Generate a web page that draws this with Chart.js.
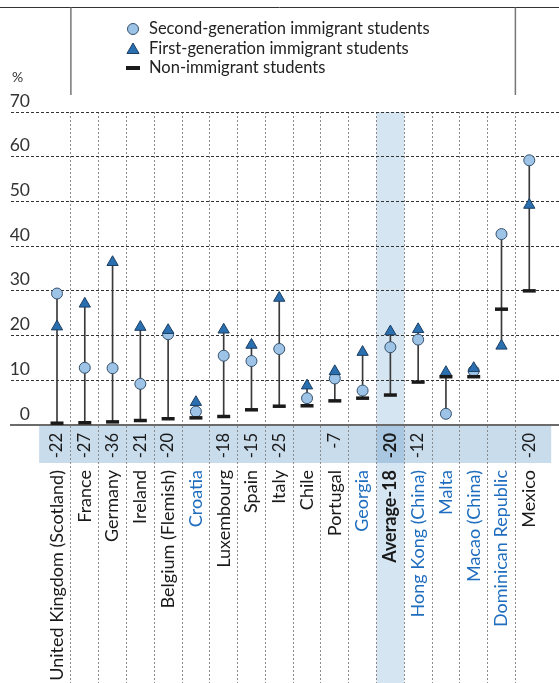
<!DOCTYPE html>
<html>
<head>
<meta charset="utf-8">
<script src="https://cdn.jsdelivr.net/npm/chart.js@4.4.0/dist/chart.umd.min.js"></script>
<style>
  html, body { margin: 0; padding: 0; background: #fff; }
</style>
</head>
<body>
<canvas id="chart" width="559" height="683"></canvas>
<script>
// Données
const countries = [
    'United Kingdom (Scotland)', 'France', 'Germany', 'Ireland', 'Belgium (Flemish)',
    'Croatia', 'Luxembourg', 'Spain', 'Italy', 'Chile', 'Portugal', 'Georgia',
    'Average-18', 'Hong Kong (China)', 'Malta', 'Macao (China)', 'Dominican Republic', 'Mexico'
];
const diffLabels = ['-22', '-27', '-36', '-21', '-20', '', '-18', '-15', '-25', '', '-7', '', '-20', '-12', '', '', '', '-20'];
const partners = ['Croatia', 'Georgia', 'Hong Kong (China)', 'Malta', 'Macao (China)', 'Dominican Republic'];
const averageLabel = 'Average-18';

const secondGen    = [29.4, 12.8, 12.7, 9.2, 20.3, 3.0, 15.5, 14.3, 17.0, 6.0, 10.4, 7.7, 17.4, 19.1, 2.5, 12.1, 42.7, 59.2];
const firstGen     = [22.0, 27.1, 36.4, 21.9, 21.2, 5.1, 21.3, 17.9, 28.4, 8.8, 12.0, 16.3, 20.9, 21.4, 11.8, 12.7, 17.7, 49.2];
const nonImmigrant = [0.4, 0.5, 0.7, 1.0, 1.4, 1.6, 1.9, 3.4, 4.2, 4.3, 5.4, 6.0, 6.7, 9.6, 10.8, 10.8, 25.9, 30.0];

const yTicks = [0, 10, 20, 30, 40, 50, 60, 70];
const legendItems = [
    'Second-generation immigrant students',
    'First-generation immigrant students',
    'Non-immigrant students'
];

const FONT = 'Lato, "Open Sans", sans-serif';
const CIRCLE_FILL = '#9dc3e6';
const TRIANGLE_FILL = '#2a6fb0';
const BLUE_TEXT = '#1f6dbf';

const ranges = countries.map((c, i) => {
    const v = [secondGen[i], firstGen[i], nonImmigrant[i]];
    return { x: i, y: [Math.min(...v), Math.max(...v)] };
});
const toPoints = arr => arr.map((v, i) => ({ x: i, y: v }));

const decorPlugin = {
    id: 'decor',
    beforeDraw(chart) {
        const { ctx, chartArea, scales: { x } } = chart;
        const iAvg = countries.indexOf(averageLabel);
        const l = x.getPixelForValue(iAvg - 0.5);
        const r = x.getPixelForValue(iAvg + 0.5);
        const bandTop = chartArea.bottom + 1;
        const bandH = 37;
        const bl = x.getPixelForValue(-0.5) - 4;
        const br = x.getPixelForValue(countries.length - 0.5) + 8;

        ctx.save();
        // colonne de la moyenne
        ctx.fillStyle = '#d6e5f2';
        ctx.fillRect(l, chartArea.top, r - l, chart.height - chartArea.top);
        // bande des différences
        ctx.fillStyle = '#c9dcec';
        ctx.fillRect(bl, bandTop, br - bl, bandH);
        ctx.fillStyle = '#a9c7e1';
        ctx.fillRect(l, bandTop, r - l, bandH);
        ctx.restore();
    },
    afterDraw(chart) {
        const { ctx, scales: { x, y } } = chart;
        ctx.save();

        // cadre de la légende
        ctx.strokeStyle = '#333';
        ctx.lineWidth = 1;
        ctx.beginPath();
        ctx.moveTo(0, 7.5);
        ctx.lineTo(chart.width, 7.5);
        ctx.stroke();
        ctx.strokeStyle = '#777';
        ctx.lineWidth = 1.5;
        [0.5, countries.length - 1.5].forEach(v => {
            const px = x.getPixelForValue(v);
            ctx.beginPath();
            ctx.moveTo(px, 7.5);
            ctx.lineTo(px, 95);
            ctx.stroke();
        });

        // légende
        const lx = 133;
        const rows = [29, 48.5, 68];
        ctx.font = '16.5px ' + FONT;
        ctx.textBaseline = 'middle';
        ctx.textAlign = 'left';
        legendItems.forEach((t, k) => {
            const ly = rows[k];
            if (k === 0) {
                ctx.fillStyle = CIRCLE_FILL; ctx.strokeStyle = '#35506b'; ctx.lineWidth = 1;
                Chart.helpers.drawPoint(ctx, { pointStyle: 'circle', radius: 5.5, borderWidth: 1 }, lx, ly);
            } else if (k === 1) {
                ctx.fillStyle = TRIANGLE_FILL; ctx.strokeStyle = '#1c3f63'; ctx.lineWidth = 1;
                Chart.helpers.drawPoint(ctx, { pointStyle: 'triangle', radius: 7, borderWidth: 1 }, lx, ly + 1.5);
            } else {
                ctx.strokeStyle = '#1a1a1a'; ctx.lineWidth = 4;
                Chart.helpers.drawPoint(ctx, { pointStyle: 'line', radius: 7, borderWidth: 4 }, lx, ly);
            }
            ctx.fillStyle = '#222';
            ctx.fillText(t, 149, ly);
        });

        // unité et graduations de l'axe Y
        ctx.fillStyle = '#333';
        ctx.font = '14px ' + FONT;
        ctx.fillText('%', 12, 77);
        ctx.font = '17.5px ' + FONT;
        ctx.textAlign = 'right';
        yTicks.forEach(v => {
            ctx.fillText(String(v), 30, y.getPixelForValue(v) - 11);
        });

        // étiquettes pivotées
        countries.forEach((name, i) => {
            const px = x.getPixelForValue(i);
            const isAvg = name === averageLabel;
            ctx.save();
            ctx.translate(px, 433);
            ctx.rotate(-Math.PI / 2);
            ctx.textAlign = 'right';
            ctx.textBaseline = 'middle';
            ctx.fillStyle = '#1a1a1a';
            ctx.font = (isAvg ? 'bold ' : '') + '16.5px ' + FONT;
            if (diffLabels[i]) ctx.fillText(diffLabels[i], 0, 0);
            ctx.restore();

            ctx.save();
            ctx.translate(px, 470);
            ctx.rotate(-Math.PI / 2);
            ctx.textAlign = 'right';
            ctx.textBaseline = 'middle';
            ctx.fillStyle = partners.includes(name) ? BLUE_TEXT : '#1a1a1a';
            ctx.font = (isAvg ? 'bold ' : '') + '18px ' + FONT;
            ctx.fillText(name, 0, 0);
            ctx.restore();
        });

        ctx.restore();
    }
};

const ctx = document.getElementById('chart').getContext('2d');
const chart = new Chart(ctx, {
    type: 'scatter',
    data: {
        datasets: [
            {
                type: 'bar',
                data: ranges,
                backgroundColor: '#3a3a3a',
                barThickness: 1,
                grouped: false,
                order: 3
            },
            {
                data: toPoints(secondGen),
                pointStyle: 'circle',
                pointRadius: 5.5,
                backgroundColor: CIRCLE_FILL,
                borderColor: '#35506b',
                borderWidth: 1,
                order: 2
            },
            {
                data: toPoints(firstGen),
                pointStyle: 'triangle',
                pointRadius: 6.5,
                backgroundColor: TRIANGLE_FILL,
                borderColor: '#1c3f63',
                borderWidth: 1,
                order: 1
            },
            {
                data: toPoints(nonImmigrant),
                pointStyle: 'line',
                pointRadius: 6.5,
                borderColor: '#1a1a1a',
                borderWidth: 3.5,
                order: 0
            }
        ]
    },
    options: {
        responsive: false,
        animation: false,
        events: [],
        layout: {
            autoPadding: false,
            padding: { left: 11, top: 112, right: 0, bottom: 0 }
        },
        plugins: {
            legend: { display: false },
            tooltip: { enabled: false }
        },
        scales: {
            x: {
                type: 'linear',
                min: -1.656,
                max: 18.07,
                offset: false,
                afterBuildTicks: function(scale) {
                    scale.ticks = countries.slice(1).map((c, i) => ({ value: i + 0.5 }));
                },
                ticks: { display: false },
                grid: {
                    offset: false,
                    color: '#8a8a8a',
                    lineWidth: 1,
                    drawTicks: true,
                    tickLength: 258,
                    tickColor: '#8a8a8a',
                    tickWidth: 1,
                    tickBorderDash: [2, 2]
                },
                border: { display: true, color: '#6b6b6b', width: 2, dash: [2, 2] }
            },
            y: {
                min: 0,
                max: 70,
                ticks: { display: false, stepSize: 10 },
                grid: { color: '#333', lineWidth: 1, drawTicks: false },
                border: { display: false, dash: [3, 2] }
            }
        }
    },
    plugins: [decorPlugin]
});
</script>
</body>
</html>
